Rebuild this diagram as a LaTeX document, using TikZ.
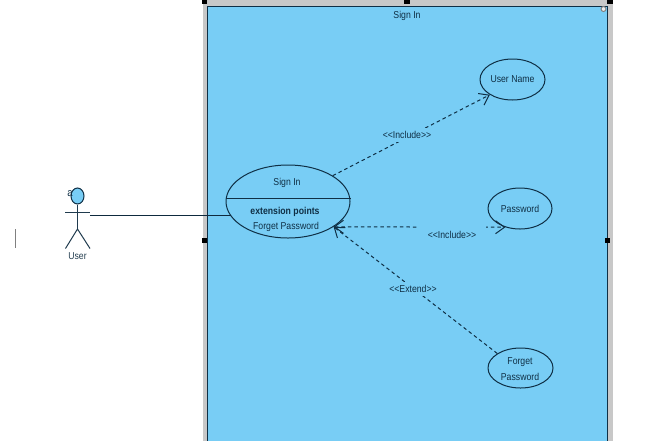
\documentclass[tikz,border=0pt]{standalone}
\usepackage{fontspec}
\setmainfont[FakeStretch=0.87]{Liberation Sans}
\usetikzlibrary{shapes.geometric,arrows.meta}
\definecolor{sysblue}{HTML}{78CDF5}
\definecolor{bandgray}{HTML}{C8C8C8}
\definecolor{ink}{HTML}{0F2F45}
\tikzset{
  usecase/.style={draw=ink,line width=1pt,ellipse,inner sep=0pt,fill=sysblue},
  lbl/.style={text=ink,font=\fontsize{10}{12}\selectfont,inner sep=0pt},
  gaplbl/.style={lbl,fill=sysblue,inner xsep=2pt,inner ysep=3pt},
  depline/.style={draw=ink,line width=1pt,dash pattern=on 3.5pt off 3pt},
  openhead/.style={-{Straight Barb[length=9pt,width=13pt,line width=1pt]}},
  twoheads/.style={{Straight Barb[length=9pt,width=13pt,line width=1pt]}-{Straight Barb[length=9pt,width=13pt,line width=1pt]}},
  handle/.style={fill=black,draw=none,minimum size=5.5pt,inner sep=0pt},
  stick/.style={draw=ink!85!gray,line width=1pt}
}
\begin{document}
\begin{tikzpicture}[x=1pt,y=-1pt]
\useasboundingbox (0,0) rectangle (660,440);
\clip (0,0) rectangle (660,440);
% system boundary
\fill[bandgray] (203,-2) rectangle (613,442);
\fill[sysblue] (207,6) rectangle (607,442);
\draw[ink,line width=0.7pt] (207,442) -- (207,6) -- (607,6) -- (607,442);
\node[handle] (h1) at (204.5,1) {};
\node[handle] (h2) at (407,1) {};
\node[handle] (h3) at (610,1) {};
\node[handle] (h4) at (204.5,240.5) {};
\node[handle] (h5) at (607.5,240.5) {};
\node[draw=gray,fill=white!85!gray,circle,line width=1pt,minimum size=5pt,inner sep=0pt] (grip) at (603.5,9) {};
\node[lbl] (title) at (407,15.5) {Sign In};
% use cases
\node[usecase,minimum width=124pt,minimum height=73pt] (signin) at (288,201.5) {};
\node[usecase,minimum width=65pt,minimum height=41pt,font=\fontsize{10}{12}\selectfont,text=ink] (username) at (512.5,79.5) {User Name};
\node[usecase,minimum width=64pt,minimum height=41pt,font=\fontsize{10}{12}\selectfont,text=ink] (password) at (520,208.5) {Password};
\node[usecase,minimum width=65pt,minimum height=40pt] (forget) at (520.5,368) {};
\draw[ink,line width=1pt] (signin.west |- 0,198) -- (signin.east |- 0,198);
\node[lbl] (sname) at (287,183) {Sign In};
\node[lbl,font=\fontsize{10}{12}\selectfont\bfseries] (ext) at (285,212) {extension points};
\node[lbl] (fp) at (286,226.5) {Forget Password};
\node[lbl] (f1) at (520,362) {Forget};
\node[lbl] (f2) at (520,377) {Password};
% dependencies
\draw[depline,openhead] (signin.30.7) -- (username.214);
\node[gaplbl] (inc1) at (407,135) {<{}<Include>{}>};
\draw[depline,twoheads] (signin.-29.5) -- (password.232);
\node[gaplbl,inner ysep=5pt,inner xsep=10pt] (inc2) at (452,234.5) {<{}<Include>{}>};
\draw[depline,openhead] (forget.148.5) -- (signin.-29.5);
\node[gaplbl] (ex) at (413,289) {<{}<Extend>{}>};
% actor
\node[draw=ink,fill=sysblue,ellipse,line width=1pt,minimum width=13pt,minimum height=16pt,inner sep=0pt] (head) at (77.5,196) {};
\node[lbl,font=\fontsize{11}{12}\selectfont] (a) at (70,194) {a};
\coordinate (hip) at (77.5,229);
\coordinate (armL) at (65,212.5);
\coordinate (armR) at (90,212.5);
\coordinate (footL) at (65.5,248.5);
\coordinate (footR) at (90,248.5);
\draw[stick] (head.south) -- (hip);
\draw[stick] (armL) -- (armR);
\draw[stick] (footL) -- (hip) -- (footR);
\node[lbl,text=ink!80!gray] (user) at (77.5,256.5) {User};
\coordinate (hand) at (90,215.5);
\coordinate (hit) at (231,215.5);
\draw[ink!90!black,line width=1pt] (hand) -- (hit);
% stray caret
\coordinate (c1) at (15.5,229);
\coordinate (c2) at (15.5,248);
\draw[gray,line width=1pt] (c1) -- (c2);
\end{tikzpicture}
\end{document}
